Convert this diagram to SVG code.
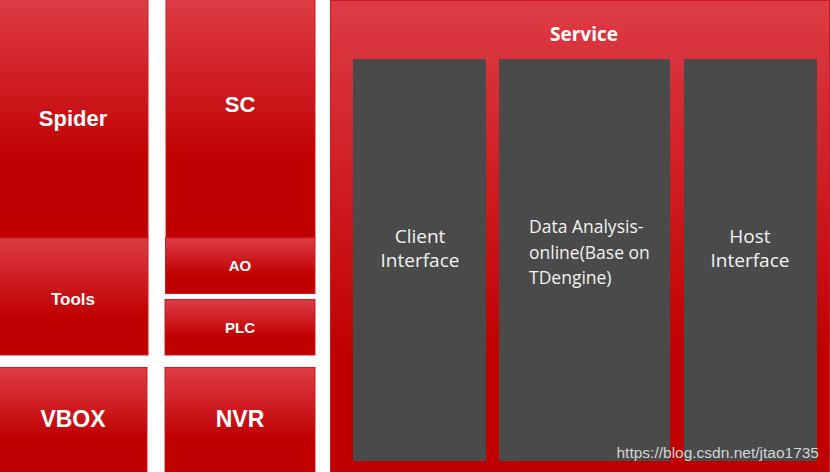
<svg xmlns="http://www.w3.org/2000/svg" width="830" height="472" viewBox="0 0 830 472">
<defs>
<linearGradient id="g" x1="0" y1="0" x2="0" y2="1">
<stop offset="0" stop-color="#dd3c46"/>
<stop offset="0.68" stop-color="#c00000"/>
<stop offset="1" stop-color="#c00000"/>
</linearGradient>
<linearGradient id="gs" x1="0" y1="0" x2="0" y2="472" gradientUnits="userSpaceOnUse">
<stop offset="0" stop-color="#dd3c46"/>
<stop offset="0.75" stop-color="#c00000"/>
<stop offset="1" stop-color="#c00000"/>
</linearGradient>
</defs>
<style>
.r{fill:url(#g);stroke:#cc1a22;stroke-width:1}
.d{fill:#4a4a4a}
.t{font-family:"Liberation Sans",Arial,sans-serif;font-weight:bold;fill:#fff;text-anchor:middle}
.c{font-family:"Open Sans","Liberation Sans",sans-serif;fill:#f2f2f2;font-size:19px}
</style>
<rect width="830" height="472" fill="#fff"/>
<g id="spider"><rect class="r" x="-1" y="-1" width="149" height="239"/><text class="t" x="73" y="126" font-size="22">Spider</text></g>
<g id="tools"><rect class="r" x="-1" y="238" width="149" height="117"/><text class="t" x="73" y="305" font-size="17">Tools</text></g>
<g id="vbox"><rect class="r" x="-1" y="367.5" width="148" height="106"/><text class="t" x="73" y="427" font-size="23">VBOX</text></g>
<g id="sc"><rect class="r" x="166" y="-1" width="149" height="239"/><text class="t" x="240" y="112" font-size="22">SC</text></g>
<g id="ao"><rect class="r" x="165.5" y="238" width="149.5" height="55.5"/><text class="t" x="240" y="271" font-size="15">AO</text></g>
<g id="plc"><rect class="r" x="165" y="299.5" width="150" height="55.5"/><text class="t" x="240" y="333" font-size="15">PLC</text></g>
<g id="nvr"><rect class="r" x="165" y="367.5" width="150" height="106"/><text class="t" x="240" y="427" font-size="23">NVR</text></g>
<g id="service">
<rect x="330.5" y="0.5" width="499" height="472" fill="url(#gs)" stroke="#cc1a22"/>
<text class="t" x="584" y="41" font-size="19" style="font-family:'Open Sans','Liberation Sans',sans-serif">Service</text>
</g>
<g id="client"><rect class="d" x="353" y="59" width="133" height="402"/><text class="c" text-anchor="middle"><tspan x="420" y="243">Client</tspan><tspan x="420" y="267">Interface</tspan></text></g>
<g id="analysis"><rect class="d" x="499" y="59" width="171" height="402"/><text class="c" font-size="17" style="font-size:17.5px"><tspan x="529" y="233">Data Analysis-</tspan><tspan x="529" y="259">online(Base on</tspan><tspan x="529" y="284">TDengine)</tspan></text></g>
<g id="host"><rect class="d" x="684" y="59" width="133" height="402"/><text class="c" text-anchor="middle"><tspan x="750" y="243">Host</tspan><tspan x="750" y="267">Interface</tspan></text></g>
<g id="connectors"/>
<text x="819" y="458" text-anchor="end" font-family="'Liberation Sans',Arial,sans-serif" font-size="15.5" fill="#d4d4d4">https://blog.csdn.net/jtao1735</text>
</svg>
